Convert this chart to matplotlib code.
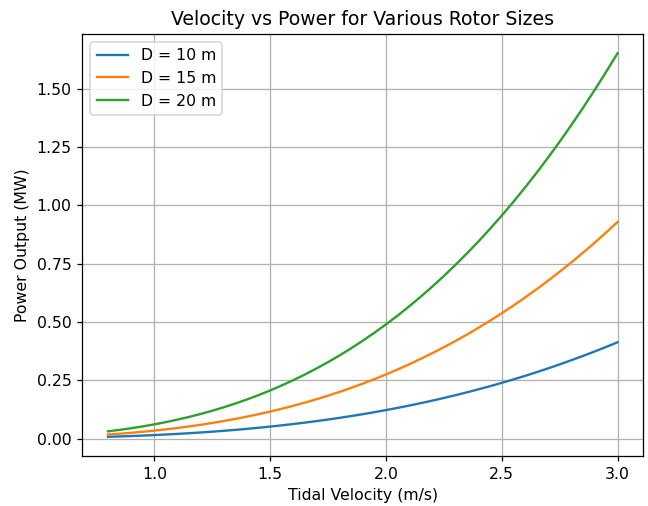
import matplotlib
matplotlib.use("Agg")
import matplotlib.pyplot as plt

# Tidal velocity samples (m/s)
velocity = [0.80, 0.85, 0.90, 0.95, 1.00, 1.05, 1.10, 1.15, 1.20, 1.25, 1.30,
            1.35, 1.40, 1.45, 1.50, 1.55, 1.60, 1.65, 1.70, 1.75, 1.80, 1.85,
            1.90, 1.95, 2.00, 2.05, 2.10, 2.15, 2.20, 2.25, 2.30, 2.35, 2.40,
            2.45, 2.50, 2.55, 2.60, 2.65, 2.70, 2.75, 2.80, 2.85, 2.90, 2.95,
            3.00]

# Power output (MW) for each rotor diameter
power_d10 = [0.0078, 0.0094, 0.0112, 0.0131, 0.0153, 0.0177, 0.0204, 0.0233,
             0.0264, 0.0299, 0.0336, 0.0376, 0.0420, 0.0466, 0.0516, 0.0570,
             0.0627, 0.0687, 0.0752, 0.0820, 0.0892, 0.0969, 0.1049, 0.1134,
             0.1224, 0.1318, 0.1417, 0.1521, 0.1629, 0.1743, 0.1862, 0.1986,
             0.2115, 0.2250, 0.2391, 0.2537, 0.2689, 0.2847, 0.3011, 0.3182,
             0.3359, 0.3542, 0.3732, 0.3928, 0.4131]
power_d15 = [0.0176, 0.0211, 0.0251, 0.0295, 0.0344, 0.0398, 0.0458, 0.0523,
             0.0594, 0.0672, 0.0756, 0.0846, 0.0944, 0.1049, 0.1161, 0.1281,
             0.1409, 0.1545, 0.1690, 0.1843, 0.2006, 0.2178, 0.2360, 0.2551,
             0.2752, 0.2964, 0.3186, 0.3419, 0.3663, 0.3919, 0.4185, 0.4464,
             0.4755, 0.5059, 0.5375, 0.5704, 0.6046, 0.6402, 0.6771, 0.7154,
             0.7551, 0.7963, 0.8390, 0.8831, 0.9288]
power_d20 = [0.0313, 0.0376, 0.0446, 0.0524, 0.0612, 0.0709, 0.0815, 0.0931,
             0.1058, 0.1195, 0.1345, 0.1506, 0.1679, 0.1866, 0.2066, 0.2279,
             0.2507, 0.2749, 0.3007, 0.3280, 0.3569, 0.3875, 0.4198, 0.4538,
             0.4896, 0.5272, 0.5668, 0.6082, 0.6517, 0.6971, 0.7446, 0.7943,
             0.8460, 0.9000, 0.9563, 1.0148, 1.0757, 1.1389, 1.2046, 1.2728,
             1.3435, 1.4167, 1.4926, 1.5711, 1.6524]

labels = ["D = 10 m", "D = 15 m", "D = 20 m"]

dpi = 113
fig = plt.figure(figsize=(648 / dpi, 506 / dpi), dpi=dpi)
ax = fig.add_axes([0.1273, 0.0988, 0.865, 0.834])

for series, label in zip([power_d10, power_d15, power_d20], labels):
    ax.plot(velocity, series, label=label)

ax.set_title("Velocity vs Power for Various Rotor Sizes")
ax.set_xlabel("Tidal Velocity (m/s)")
ax.set_ylabel("Power Output (MW)")
ax.grid(True)
ax.legend(loc="upper left")

fig.savefig("out.png", dpi=dpi)
